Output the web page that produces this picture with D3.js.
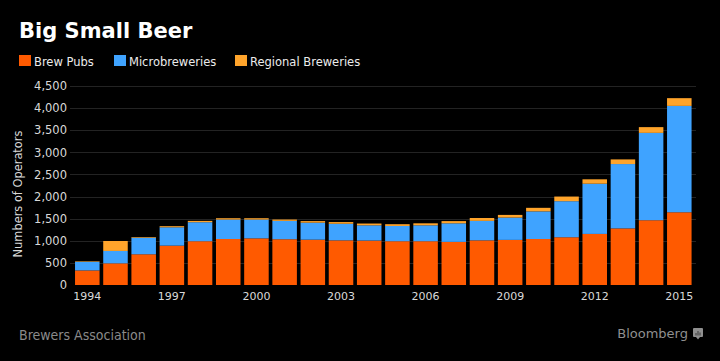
<!DOCTYPE html>
<html>
<head>
<meta charset="utf-8">
<script src="https://cdn.jsdelivr.net/npm/d3@7/dist/d3.min.js"></script>
<style>
  html, body { margin: 0; padding: 0; background: #000; }
  svg { display: block; }
  text { font-family: "DejaVu Sans", Verdana, sans-serif; }
</style>
</head>
<body>
<svg id="chart" width="720" height="361"></svg>
<script>
const years = d3.range(1994, 2016).map(String);
const brewPubs = [330, 490, 695, 890, 990, 1040, 1055, 1035, 1025, 1010, 1005, 990, 990, 975, 1010, 1020, 1040, 1080, 1155, 1280, 1465, 1645];
const microbreweries = [195, 280, 375, 415, 430, 440, 425, 415, 385, 375, 345, 345, 360, 420, 440, 505, 625, 815, 1135, 1455, 1975, 2405];
const regionalBreweries = [12, 225, 15, 25, 30, 30, 30, 30, 35, 38, 40, 40, 45, 50, 65, 60, 80, 105, 100, 105, 130, 175];
const seriesNames = ["Brew Pubs", "Microbreweries", "Regional Breweries"];
const seriesColors = ["#ff5a00", "#3fa3ff", "#ffa42b"];
const yTicks = [0, 500, 1000, 1500, 2000, 2500, 3000, 3500, 4000, 4500];
const xTickLabels = ["1994", "1997", "2000", "2003", "2006", "2009", "2012", "2015"];

const svg = d3.select("#chart");
svg.append("rect").attr("width", 720).attr("height", 361).attr("fill", "#000");

const table = years.map((y, i) => ({
  year: y,
  "Brew Pubs": brewPubs[i],
  "Microbreweries": microbreweries[i],
  "Regional Breweries": regionalBreweries[i]
}));

const x = d3.scaleBand().domain(years).range([73.2, 693.4]).paddingInner(0.13).paddingOuter(0.065);
const y = d3.scaleLinear().domain([0, 4500]).range([285, 86]);
const color = d3.scaleOrdinal().domain(seriesNames).range(seriesColors);

// Title
svg.append("text").attr("x", 19).attr("y", 38)
  .attr("fill", "#fff").attr("font-weight", "bold").attr("font-size", 21)
  .text("Big Small Beer");

// Legend
const legendX = [19, 114, 235];
seriesNames.forEach((name, i) => {
  svg.append("rect").attr("x", legendX[i]).attr("y", 55).attr("width", 12).attr("height", 11)
    .attr("fill", color(name));
  svg.append("text").attr("x", legendX[i] + 15).attr("y", 66)
    .attr("fill", "#ececec").attr("font-size", 11.5).text(name);
});

// Grid
svg.append("g").selectAll("line").data(yTicks.slice(1)).join("line")
  .attr("x1", 70).attr("x2", 696)
  .attr("y1", d => Math.round(y(d)) + 0.5).attr("y2", d => Math.round(y(d)) + 0.5)
  .attr("stroke", "#232323").attr("stroke-width", 1);

// Y axis
const yAxis = d3.axisLeft(y).tickValues(yTicks).tickSize(0).tickPadding(0)
  .tickFormat(d3.format(","));
const gy = svg.append("g").attr("transform", "translate(67,0)").call(yAxis);
gy.select(".domain").remove();
gy.selectAll("text").attr("fill", "#d9d9d9").attr("font-size", 11.5)
  .attr("font-family", "DejaVu Sans, sans-serif");

// Y title
svg.append("text").attr("transform", "translate(22,194) rotate(-90)")
  .attr("text-anchor", "middle").attr("fill", "#d9d9d9").attr("font-size", 11.4)
  .text("Numbers of Operators");

// Bars
const stack = d3.stack().keys(seriesNames)(table);
svg.append("g").selectAll("g").data(stack).join("g")
  .attr("fill", d => color(d.key))
  .selectAll("rect").data(d => d).join("rect")
  .attr("x", d => x(d.data.year))
  .attr("width", x.bandwidth())
  .attr("y", d => y(d[1]))
  .attr("height", d => y(d[0]) - y(d[1]));

// X axis
const xAxis = d3.axisBottom(x).tickValues(xTickLabels).tickSize(0).tickPadding(0);
const gx = svg.append("g").attr("transform", "translate(0,292)").call(xAxis);
gx.select(".domain").remove();
gx.selectAll("text").attr("fill", "#d9d9d9").attr("font-size", 11)
  .attr("font-family", "DejaVu Sans, sans-serif");

// Footer
svg.append("text").attr("x", 19).attr("y", 340)
  .attr("fill", "#8a8a8a").attr("font-size", 14)
  .attr("font-family", "DejaVu Sans Condensed, DejaVu Sans, sans-serif")
  .attr("font-stretch", "condensed").text("Brewers Association");
svg.append("text").attr("x", 688).attr("y", 338).attr("text-anchor", "end")
  .attr("fill", "#8f8f8f").attr("font-size", 13).text("Bloomberg");
const icon = svg.append("g").attr("transform", "translate(693,328)");
icon.append("rect").attr("width", 10).attr("height", 9).attr("rx", 1).attr("fill", "#8f8f8f");
icon.append("path").attr("d", "M3,9 L5,11.5 L7,9 Z").attr("fill", "#8f8f8f");
[[2.5, 5], [4.5, 3], [6.5, 4.5]].forEach(([bx, by]) => {
  icon.append("rect").attr("x", bx).attr("y", by).attr("width", 1).attr("height", 7.5 - by).attr("fill", "#3a3a3a");
});
</script>
</body>
</html>
